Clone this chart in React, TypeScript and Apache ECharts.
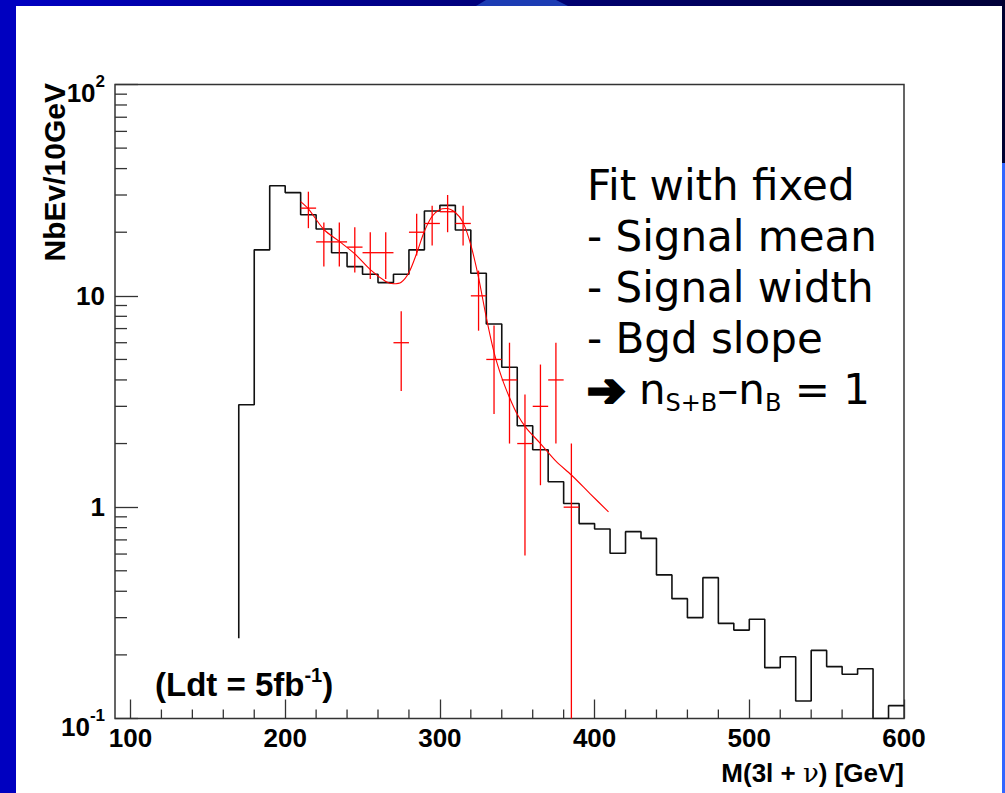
import React, { useEffect, useRef } from "react";
import * as echarts from "echarts";

// ---- data ----
const xMin = 90;
const xMax = 600;
const yMin = 0.1;
const yMax = 100;
const xLabelValues = [100, 200, 300, 400, 500, 600];
const xMinorTicks = [120, 140, 160, 180, 220, 240, 260, 280, 320, 340, 360, 380, 420, 440, 460, 480, 520, 540, 560, 580];
const yMinorTicks = [0.2, 0.3, 0.4, 0.5, 0.6, 0.7, 0.8, 0.9, 2, 3, 4, 5, 6, 7, 8, 9, 20, 30, 40, 50, 60, 70, 80, 90];

// MC histogram, 10 GeV bins, low edges 170 ... 590
const histFirstEdge = 170;
const histBinWidth = 10;
const histStartLevel = 0.24;
const histValues = [
  3.05, 16.5, 33.2, 30.8, 24.2, 20.7, 16.0, 13.75, 12.65, 11.55,
  12.65, 16.5, 25.2, 26.8, 20.5, 12.8, 7.36, 4.59, 2.43, 1.87,
  1.32, 1.04, 0.836, 0.788, 0.605, 0.766, 0.712, 0.478, 0.369, 0.3,
  0.464, 0.282, 0.262, 0.295, 0.174, 0.196, 0.121, 0.21, 0.176, 0.162,
  0.172, 0, 0.115,
];

// pseudo-data with error bars (bin centres)
const dataX = [215, 225, 235, 245, 255, 265, 275, 285, 295, 305, 315, 325, 335, 345, 355, 365, 375, 385];
const dataY = [26, 18, 18, 17, 16, 16, 6, 20, 22, 25, 22, 10, 5, 4, 2, 3, 4, 1];
const dataErr = [5.1, 4.24, 4.24, 4.12, 4, 4, 2.45, 4.47, 4.69, 5, 4.69, 3.16, 2.24, 2, 1.41, 1.73, 2, 1];

// fitted curve samples
const fitX = [210, 215, 225, 235, 245, 255, 265, 270, 275, 280, 285, 290, 295, 300, 304, 310, 315, 320, 325, 330, 335, 340, 345, 350, 356, 365, 375, 385, 397, 409];
const fitY = [27.9, 25.8, 20.6, 18.1, 15.8, 13.3, 11.7, 11.4, 11.6, 12.9, 15.9, 20.2, 23.8, 25.6, 25.9, 24.8, 22.2, 17.4, 12.2, 7.9, 5.4, 4.1, 3.3, 2.75, 2.36, 2.0, 1.65, 1.42, 1.16, 0.95];

const FONT = '"Liberation Sans", Arial, Helvetica, sans-serif';
const COMIC = '"Comic Sans MS", "DejaVu Sans", sans-serif';

export default function App() {
  const ref = useRef<HTMLDivElement>(null);

  useEffect(() => {
    if (!ref.current) return;
    const chart = echarts.init(ref.current, null, { renderer: "svg" });

    const histPoints: number[][] = [[histFirstEdge, histStartLevel]];
    histValues.forEach((v, i) => {
      histPoints.push([histFirstEdge + i * histBinWidth, v > 0 ? v : yMin]);
    });
    const lastV = histValues[histValues.length - 1];
    histPoints.push([histFirstEdge + histValues.length * histBinWidth, lastV > 0 ? lastV : yMin]);

    const option: any = {
      animation: false,
      backgroundColor: "#ffffff",
      grid: {
        left: 115,
        top: 84.5,
        right: 101,
        bottom: 74.5,
        show: true,
        borderColor: "#333",
        borderWidth: 1.5,
        backgroundColor: "transparent",
        outerBoundsMode: "none",
      },
      xAxis: {
        type: "value",
        min: xMin,
        max: xMax,
        axisLine: { show: false },
        splitLine: { show: false },
        axisTick: {
          show: true,
          inside: true,
          length: 19,
          customValues: xLabelValues,
          lineStyle: { color: "#333", width: 1.3 },
        },
        axisLabel: {
          customValues: xLabelValues,
          margin: 6,
          fontSize: 26,
          fontWeight: "bold",
          fontFamily: FONT,
          color: "#000",
        },
      },
      yAxis: {
        type: "log",
        logBase: 10,
        min: yMin,
        max: yMax,
        axisLine: { show: false },
        splitLine: { show: false },
        axisTick: { show: true, inside: true, length: 23, lineStyle: { color: "#333", width: 1.3 } },
        axisLabel: {
          margin: 10,
          fontSize: 26,
          fontWeight: "bold",
          fontFamily: FONT,
          color: "#000",
          formatter: (v: number) => {
            const e = Math.round(Math.log10(v));
            if (e === 2) return "{d|10}{s|2}";
            if (e === -1) return "{d|10}{s|-1}";
            return String(Math.round(v));
          },
          rich: {
            d: { fontSize: 26, fontWeight: "bold", fontFamily: FONT, color: "#000", lineHeight: 40, padding: [16, 0, 0, 0] },
            s: { fontSize: 17, fontWeight: "bold", fontFamily: FONT, color: "#000", verticalAlign: "top", padding: [8, 0, 0, 0] },
          },
        },
      },
      series: [
        {
          type: "line",
          name: "MC",
          step: "end",
          data: histPoints,
          showSymbol: false,
          symbol: "none",
          lineStyle: { color: "#111", width: 1.6 },
          silent: true,
          z: 2,
        },
        {
          type: "line",
          name: "fit",
          smooth: 0.3,
          data: fitX.map((x, i) => [x, fitY[i]]),
          showSymbol: false,
          symbol: "none",
          lineStyle: { color: "#ff0000", width: 1.1 },
          silent: true,
          z: 3,
        },
        {
          type: "custom",
          name: "data",
          silent: true,
          z: 4,
          data: dataX.map((x, i) => [x, dataY[i], dataErr[i]]),
          renderItem: (params: any, api: any) => {
            const x = api.value(0);
            const v = api.value(1);
            const e = api.value(2);
            const l = api.coord([x - histBinWidth / 2, v]);
            const r = api.coord([x + histBinWidth / 2, v]);
            const top = api.coord([x, Math.min(v + e, yMax)]);
            const bot = api.coord([x, Math.max(v - e, yMin)]);
            const st = { stroke: "#ff0000", lineWidth: 1.3 };
            return {
              type: "group",
              children: [
                { type: "line", shape: { x1: l[0], y1: l[1], x2: r[0], y2: r[1] }, style: st },
                { type: "line", shape: { x1: top[0], y1: top[1], x2: bot[0], y2: bot[1] }, style: st },
              ],
            };
          },
        },
        {
          type: "custom",
          name: "xminor",
          silent: true,
          clip: false,
          z: 5,
          data: xMinorTicks.map((v) => [v, yMin]),
          renderItem: (params: any, api: any) => {
            const p = api.coord([api.value(0), yMin]);
            return {
              type: "line",
              shape: { x1: p[0], y1: p[1], x2: p[0], y2: p[1] - 9 },
              style: { stroke: "#333", lineWidth: 1.3 },
            };
          },
        },
        {
          type: "custom",
          name: "yminor",
          silent: true,
          clip: false,
          z: 5,
          data: yMinorTicks.map((v) => [xMin, v]),
          renderItem: (params: any, api: any) => {
            const p = api.coord([xMin, api.value(1)]);
            return {
              type: "line",
              shape: { x1: p[0], y1: p[1], x2: p[0] + 12, y2: p[1] },
              style: { stroke: "#333", lineWidth: 1.3 },
            };
          },
        },
      ],
      graphic: [
        // slide decoration
        {
          type: "rect",
          shape: { x: 0, y: 0, width: 1005, height: 6 },
          style: {
            fill: new echarts.graphic.LinearGradient(0, 0, 1, 0, [
              { offset: 0, color: "#0000c4" },
              { offset: 0.35, color: "#00008c" },
              { offset: 1, color: "#000038" },
            ]),
          },
          silent: true,
        },
        {
          type: "polygon",
          shape: { points: [[486, 0], [556, 0], [568, 6], [476, 6]] },
          style: { fill: "#1c3cb4" },
          silent: true,
        },
        { type: "rect", shape: { x: 0, y: 0, width: 16, height: 793 }, style: { fill: "#0000c0" }, silent: true },
        { type: "rect", shape: { x: 1002, y: 0, width: 3, height: 163 }, style: { fill: "#000030" }, silent: true },
        { type: "rect", shape: { x: 1002, y: 163, width: 3, height: 630 }, style: { fill: "#3366ff" }, silent: true },
        // axis titles
        {
          type: "text",
          x: 54,
          y: 83,
          rotation: Math.PI / 2,
          style: {
            text: "NbEv/10GeV",
            fontSize: 30,
            fontWeight: "bold",
            fontFamily: FONT,
            fill: "#000",
            textAlign: "right",
            textVerticalAlign: "middle",
          },
          silent: true,
        },
        {
          type: "text",
          x: 904,
          y: 773,
          style: {
            text: "{t|M(3l + }{n|ν}{t|) [GeV]}",
            rich: {
              t: { fontSize: 26, fontWeight: "bold", fontFamily: FONT, fill: "#000" },
              n: { fontSize: 26, fontWeight: "normal", fontFamily: '"DejaVu Serif", serif', fill: "#000" },
            },
            textAlign: "right",
            textVerticalAlign: "middle",
          },
          silent: true,
        },
        // luminosity label
        {
          type: "text",
          x: 155,
          y: 684,
          style: {
            text: "{m|(Ldt = 5fb}{s|-1}{m|)}",
            rich: {
              m: { fontSize: 33, fontWeight: "bold", fontFamily: FONT, fill: "#000", lineHeight: 44 },
              s: { fontSize: 20, fontWeight: "bold", fontFamily: FONT, fill: "#000", verticalAlign: "top", padding: [3, 0, 0, 0] },
            },
            textAlign: "left",
            textVerticalAlign: "middle",
          },
          silent: true,
        },
        // fit annotation
        {
          type: "text",
          x: 587,
          y: 160,
          style: {
            text:
              "{t|Fit with fixed}\n{t|- Signal mean}\n{t|- Signal width}\n{t|- Bgd slope}\n{a|➔}{t| n}{s|S+B}{t|–n}{s|B}{t| = 1}",
            fontSize: 42,
            fontFamily: COMIC,
            lineHeight: 51,
            fill: "#000",
            rich: {
              t: { fontSize: 42, fontFamily: COMIC, fill: "#000", lineHeight: 51 },
              a: {
                fontSize: 46,
                fontFamily: '"DejaVu Sans", sans-serif',
                fontWeight: "bold",
                fill: "#000",
                stroke: "#000",
                lineWidth: 3,
                lineHeight: 51,
              },
              s: { fontSize: 24, fontFamily: COMIC, fill: "#000", lineHeight: 24, verticalAlign: "bottom" },
            },
            textAlign: "left",
            textVerticalAlign: "top",
          },
          silent: true,
        },
      ],
    };

    chart.setOption(option);
    return () => chart.dispose();
  }, []);

  return (
    <div
      ref={ref}
      style={{ position: "absolute", left: 0, top: 0, width: 1005, height: 793, background: "#fff" }}
    />
  );
}
